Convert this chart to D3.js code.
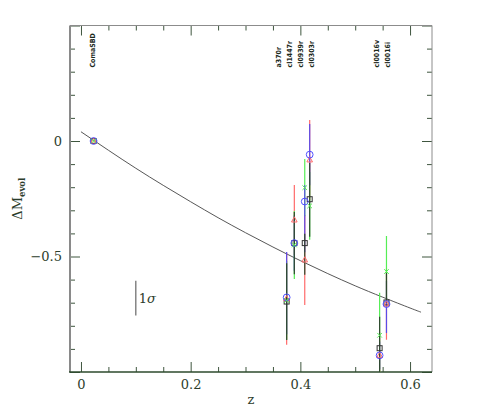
<!DOCTYPE html>
<html>
<head>
<meta charset="utf-8">
<script src="https://cdn.jsdelivr.net/npm/d3@7"></script>
<style>
  html, body { margin: 0; padding: 0; background: #fff; }
  svg { display: block; }
</style>
</head>
<body>
<svg id="chart" width="480" height="409"></svg>
<script>
// ---------------- data ----------------
const clusters = ["ComaSBD", "a370r", "cl1447r", "cl0939r", "cl0303r", "cl0016v", "cl0016i"];
const zPoint   = [0.023, 0.375, 0.389, 0.408, 0.417, 0.5445, 0.557];
const zLabel   = [0.0224, 0.3615, 0.3816, 0.4016, 0.4217, 0.5402, 0.5603];

// red triangles
const redVal   = [0, -0.683, -0.342, -0.515, -0.082, -0.928, -0.706];
const redUp    = [0, 0.199, 0.151, 0.195, 0.173, 0.10, 0.154];
const redDown  = [0, 0.199, 0.151, 0.195, 0.173, 0.10, 0.154];
// green crosses
const greenVal  = [0, -0.69, -0.45, -0.202, -0.281, -0.841, -0.565];
const greenUp   = [0, 0.17, 0.147, 0.124, 0.147, 0.184, 0.154];
const greenDown = [0, 0.17, 0.147, 0.124, 0.147, 0.184, 0.154];
// blue circles
const blueVal   = [0, -0.677, -0.442, -0.262, -0.059, -0.928, -0.706];
const blueUp    = [0, 0.197, 0.12, 0.07, 0.133, 0.06, 0.10];
const blueDown  = [0, 0.16, 0.12, 0.22, 0.133, 0.06, 0.125];
// black squares
const blackVal  = [0, -0.695, -0.442, -0.442, -0.252, -0.897, -0.699];
const blackUp   = [0, 0.166, 0.135, 0.04, 0.157, 0.136, 0.128];
const blackDown = [0, 0.166, 0.135, 0.137, 0.162, 0.136, 0.0];

// model curve
const curveZ = [0, 0.05, 0.1, 0.15, 0.2, 0.25, 0.3, 0.35, 0.4, 0.45, 0.5, 0.55, 0.6, 0.62];
const curveM = [0.040, -0.040, -0.118, -0.192, -0.263, -0.332, -0.397, -0.459, -0.518, -0.574, -0.627, -0.676, -0.723, -0.741];

// 1 sigma bar
const sigmaZ = 0.1;
const sigmaFrom = -0.605;
const sigmaTo = -0.755;
const sigmaText = "1σ";

// ticks
const xMajor = [0, 0.2, 0.4, 0.6];
const xMinor = [0.05, 0.1, 0.15, 0.25, 0.3, 0.35, 0.45, 0.5, 0.55];
const yMajor = [-1, -0.5, 0, 0.5];
const yLabeled = [-0.5, 0];
const yMinor = [-0.9, -0.8, -0.7, -0.6, -0.4, -0.3, -0.2, -0.1, 0.1, 0.2, 0.3, 0.4];

// ---------------- drawing ----------------
const L = 70, R = 432, T = 25.5, B = 372;
const svg = d3.select("#chart");
const x = d3.scaleLinear().domain([-0.02, 0.64]).range([L, R]);
const y = d3.scaleLinear().domain([-1, 0.5]).range([B, T]);

const textCol = "#2c3d2c";
const tickCol = "#3f563f";
const serif = "'DejaVu Serif', serif";

svg.append("defs").append("clipPath").attr("id", "clip")
  .append("rect").attr("x", L).attr("y", T).attr("width", R - L).attr("height", B - T);

function styleAxis(g) {
  g.select(".domain").remove();
  g.selectAll(".tick line").attr("stroke", tickCol).attr("stroke-width", 1);
  g.selectAll(".tick text").attr("fill", textCol).style("font-family", serif).style("font-size", "13px");
}
// bottom
svg.append("g").attr("transform", `translate(0,${B})`)
  .call(d3.axisBottom(x).tickValues(xMajor).tickSize(-10).tickPadding(8).tickFormat(d3.format("")))
  .call(styleAxis);
svg.append("g").attr("transform", `translate(0,${B})`)
  .call(d3.axisBottom(x).tickValues(xMinor).tickSize(-5).tickFormat(""))
  .call(styleAxis);
// top
svg.append("g").attr("transform", `translate(0,${T})`)
  .call(d3.axisTop(x).tickValues(xMajor).tickSize(-10).tickFormat(""))
  .call(styleAxis);
svg.append("g").attr("transform", `translate(0,${T})`)
  .call(d3.axisTop(x).tickValues(xMinor).tickSize(-5).tickFormat(""))
  .call(styleAxis);
// left
svg.append("g").attr("transform", `translate(${L},0)`)
  .call(d3.axisLeft(y).tickValues(yMajor).tickSize(-10).tickPadding(8)
    .tickFormat(d => yLabeled.includes(d) ? d3.format("")(d) : ""))
  .call(styleAxis);
svg.append("g").attr("transform", `translate(${L},0)`)
  .call(d3.axisLeft(y).tickValues(yMinor).tickSize(-5).tickFormat(""))
  .call(styleAxis);
// right
svg.append("g").attr("transform", `translate(${R},0)`)
  .call(d3.axisRight(y).tickValues(yMajor).tickSize(-10).tickFormat(""))
  .call(styleAxis);
svg.append("g").attr("transform", `translate(${R},0)`)
  .call(d3.axisRight(y).tickValues(yMinor).tickSize(-5).tickFormat(""))
  .call(styleAxis);

// frame
svg.append("line").attr("x1", L).attr("x2", R).attr("y1", T).attr("y2", T).attr("stroke", "#8c8c8c").attr("stroke-width", 1);
svg.append("line").attr("x1", R).attr("x2", R).attr("y1", T).attr("y2", B).attr("stroke", "#8c8c8c").attr("stroke-width", 1);
svg.append("line").attr("x1", L).attr("x2", L).attr("y1", T).attr("y2", B).attr("stroke", "#8a8a8a").attr("stroke-width", 2);
svg.append("line").attr("x1", L - 1).attr("x2", R).attr("y1", B).attr("y2", B).attr("stroke", "#2c4a2c").attr("stroke-width", 1.5);

// axis titles
svg.append("text").attr("x", x(0.31)).attr("y", 403.5).attr("text-anchor", "middle")
  .attr("fill", textCol).style("font-family", serif).style("font-size", "13px").text("z");
const yl = svg.append("text").attr("transform", `translate(22,${y(-0.25)}) rotate(-90)`)
  .attr("text-anchor", "middle").attr("fill", textCol).style("font-family", serif).style("font-size", "13px");
yl.append("tspan").text("ΔM");
yl.append("tspan").attr("dy", 3).style("font-size", "8.5px").style("font-weight", "bold").text("evol");

// cluster labels
svg.append("g").selectAll("text").data(clusters).join("text")
  .attr("transform", (d, i) => `translate(${x(zLabel[i])},67.5) rotate(-90)`)
  .attr("dominant-baseline", "central")
  .attr("fill", "#1c2a1c")
  .style("font-family", "'DejaVu Sans Condensed', 'DejaVu Sans', sans-serif")
  .style("font-weight", "bold").style("font-size", "7px")
  .text(d => d);

// model curve
const plot = svg.append("g").attr("clip-path", "url(#clip)");
plot.append("path")
  .attr("d", d3.line().x((d, i) => x(curveZ[i])).y(d => y(d)).curve(d3.curveNatural)(curveM))
  .attr("fill", "none").attr("stroke", "#444").attr("stroke-width", 0.9);

// sigma bar
svg.append("line").attr("x1", x(sigmaZ)).attr("x2", x(sigmaZ))
  .attr("y1", y(sigmaFrom)).attr("y2", y(sigmaTo)).attr("stroke", "#666").attr("stroke-width", 1.2);
const st = svg.append("text").attr("x", x(sigmaZ) + 3).attr("y", (y(sigmaFrom) + y(sigmaTo)) / 2 + 5)
  .attr("fill", textCol).style("font-family", serif).style("font-size", "13px");
st.append("tspan").text(sigmaText[0]);
st.append("tspan").style("font-style", "italic").text(sigmaText.slice(1));

// series (error-bar drawing order)
const series = [
  { name: "red",   color: "#ff6a6a", val: redVal,   up: redUp,   down: redDown,   marker: "tri" },
  { name: "green", color: "#55ee55", val: greenVal, up: greenUp, down: greenDown, marker: "x" },
  { name: "blue",  color: "#5a4ce8", val: blueVal,  up: blueUp,  down: blueDown,  marker: "circle" },
  { name: "black", color: "#2e4a2e", val: blackVal, up: blackUp, down: blackDown, marker: "square" }
];
const markerOrder = ["black", "red", "blue", "green"];

// error bars
series.forEach(s => {
  plot.append("g").selectAll("line").data(s.val).join("line")
    .attr("x1", (d, i) => x(zPoint[i])).attr("x2", (d, i) => x(zPoint[i]))
    .attr("y1", (d, i) => y(d + s.up[i])).attr("y2", (d, i) => y(d - s.down[i]))
    .attr("stroke", s.color).attr("stroke-width", 1.2);
});

// markers
markerOrder.map(n => series.find(s => s.name === n)).forEach(s => {
  const g = plot.append("g");
  s.val.forEach((d, i) => {
    const cx = x(zPoint[i]), cy = y(d);
    if (s.marker === "circle") {
      g.append("circle").attr("cx", cx).attr("cy", cy).attr("r", 3.4)
        .attr("fill", "none").attr("stroke", "#5050ff").attr("stroke-width", 1);
    } else if (s.marker === "square") {
      g.append("rect").attr("x", cx - 2.5).attr("y", cy - 2.5).attr("width", 5).attr("height", 5)
        .attr("fill", "none").attr("stroke", "#333").attr("stroke-width", 1);
    } else if (s.marker === "tri") {
      g.append("path").attr("d", `M${cx},${cy - 3.2}L${cx + 2.8},${cy + 2}L${cx - 2.8},${cy + 2}Z`)
        .attr("fill", "none").attr("stroke", s.color).attr("stroke-width", 1);
    } else {
      g.append("path").attr("d", `M${cx - 2.3},${cy - 2.3}L${cx + 2.3},${cy + 2.3}M${cx - 2.3},${cy + 2.3}L${cx + 2.3},${cy - 2.3}`)
        .attr("fill", "none").attr("stroke", s.color).attr("stroke-width", 1);
    }
  });
});
</script>
</body>
</html>
